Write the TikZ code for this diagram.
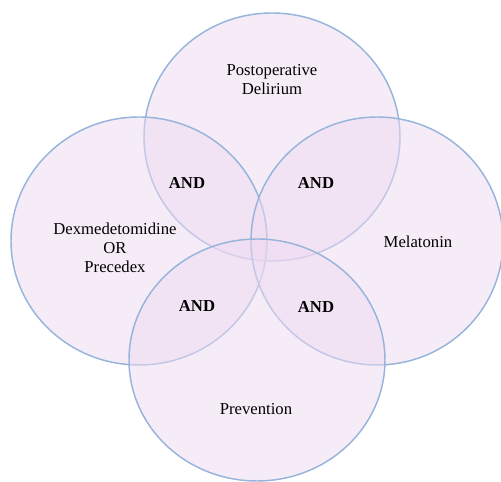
\documentclass[tikz,border=0pt]{standalone}
\usepackage{fontspec}
\setmainfont{Liberation Serif}
\definecolor{ringfill}{RGB}{238,218,240}
\definecolor{ringline}{RGB}{150,180,220}

\begin{document}
\begin{tikzpicture}[x=0.75pt, y=0.75pt,
		ring/.style={fill=ringfill, fill opacity=0.5, draw=ringline, line width=1.1pt},
		lbl/.style={align=center, font=\fontsize{12.5}{14.3}\selectfont},
		andlbl/.style={font=\fontsize{12.5}{14.3}\selectfont\bfseries}]
			%%%%% START %%%%%
			
			\useasboundingbox (0, 0) rectangle (501, 482);
			
			\draw[ring] (272, 345) ellipse [x radius=128, y radius=124];
			\draw[ring] (139, 241) ellipse [x radius=128, y radius=124];
			\draw[ring] (377, 241) ellipse [x radius=126, y radius=124];
			\draw[ring] (257, 122) ellipse [x radius=128, y radius=121];
			
			\node[lbl] (pod) at (272, 402) {Postoperative\\Delirium};
			\node[lbl] (dex) at (115, 234) {Dexmedetomidine\\OR\\Precedex};
			\node[lbl] (mel) at (418, 240) {Melatonin};
			\node[lbl] (prev) at (256, 73) {Prevention};
			
			\node[andlbl] (and1) at (187, 299) {AND};
			\node[andlbl] (and2) at (316, 299) {AND};
			\node[andlbl] (and3) at (197, 176) {AND};
			\node[andlbl] (and4) at (316, 175) {AND};
			
			%%%%% END %%%%%
		\end{tikzpicture}
\end{document}
